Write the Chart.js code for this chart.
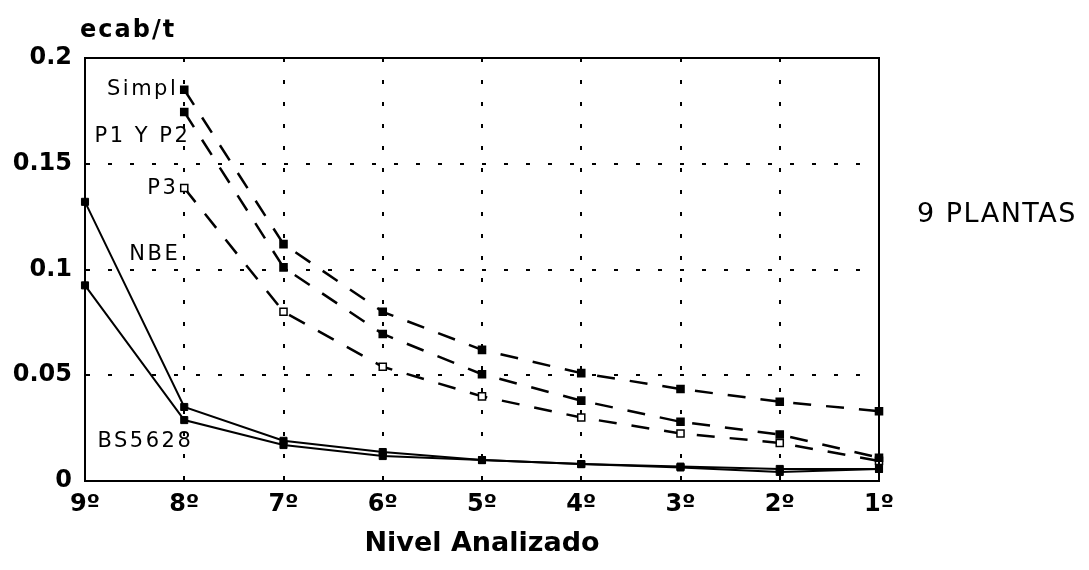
<!DOCTYPE html>
<html>
<head>
<meta charset="utf-8">
<script src="https://cdn.jsdelivr.net/npm/chart.js@4/dist/chart.umd.min.js"></script>
<style>
html,body{margin:0;padding:0;background:#fff;}
#wrap{width:1089px;height:570px;}
</style>
</head>
<body>
<div id="wrap"><canvas id="c" width="1089" height="570"></canvas></div>
<script>
const categories = ['9º','8º','7º','6º','5º','4º','3º','2º','1º'];
const yTickLabels = ['0','0.05','0.1','0.15','0.2'];
const seriesNames = ['Simpl','P1 Y P2','P3','NBE','BS5628'];
const simpl  = [null, 0.185, 0.112, 0.080, 0.062, 0.051, 0.0435, 0.0375, 0.033];
const p1p2   = [null, 0.1745, 0.101, 0.0695, 0.0505, 0.038, 0.028, 0.022, 0.011];
const p3     = [null, 0.1385, 0.080, 0.054, 0.040, 0.030, 0.0225, 0.018, 0.0095];
const nbe    = [0.132, 0.035, 0.019, 0.0137, 0.0099, 0.008, 0.0068, 0.0057, 0.0057];
const bs5628 = [0.0925, 0.0288, 0.017, 0.0118, 0.0099, 0.008, 0.0064, 0.0043, 0.0057];
const yTitle = 'ecab/t';
const xTitle = 'Nivel Analizado';
const sideNote = '9 PLANTAS';

const dashed = (data, fill) => ({
  data, borderColor:'#000', borderWidth:2.5, borderDash:[18,15],
  pointStyle:'rect', pointRadius:5, pointBackgroundColor: fill, pointBorderColor:'#000',
  pointBorderWidth:1.5, tension:0, clip:false, spanGaps:false
});
const solid = (data) => ({
  data, borderColor:'#000', borderWidth:2,
  pointStyle:'rect', pointRadius:5, pointBackgroundColor:'#000', pointBorderColor:'#000',
  pointBorderWidth:1, tension:0, clip:false
});

const labelPlugin = {
  id:'labels',
  afterDraw(chart){
    const {ctx, chartArea:a, scales:{x,y}} = chart;
    ctx.save();
    ctx.strokeStyle='#000'; ctx.lineWidth=2; ctx.setLineDash([]);
    ctx.strokeRect(a.left, a.top, a.right-a.left, a.bottom-a.top);
    ctx.fillStyle='#000';
    ctx.font='21px "DejaVu Sans"';
    ctx.letterSpacing='2.5px';
    ctx.textAlign='right'; ctx.textBaseline='middle';
    const x8 = x.getPixelForValue(1);
    const specs = [
      {t:seriesNames[0], yy:y.getPixelForValue(simpl[1]), dx:-6},
      {t:seriesNames[1], yy:y.getPixelForValue(p1p2[1])+25, dx:6},
      {t:seriesNames[2], yy:y.getPixelForValue(p3[1]), dx:-6},
      {t:seriesNames[3], yy:y.getPixelForValue(0.107), dx:-4},
      {t:seriesNames[4], yy:y.getPixelForValue(0.0185), dx:9}
    ];
    specs.forEach(s=>ctx.fillText(s.t, x8+s.dx, s.yy));
    ctx.textAlign='left'; ctx.textBaseline='alphabetic';
    ctx.font='bold 24px "DejaVu Sans"'; ctx.letterSpacing='2px';
    ctx.fillText(yTitle, 80, 37);
    ctx.font='27px "DejaVu Sans"'; ctx.letterSpacing='1.5px';
    ctx.textBaseline='middle';
    ctx.fillText(sideNote, 917, 215);
    ctx.restore();
  }
};

new Chart(document.getElementById('c'), {
  type:'line',
  data:{
    labels:categories,
    datasets:[dashed(simpl,'#000'), dashed(p1p2,'#000'), dashed(p3,'#fff'), solid(nbe), solid(bs5628)]
  },
  options:{
    responsive:false, animation:false,
    layout:{padding:{left:0,right:210,top:58,bottom:0}},
    plugins:{legend:{display:false}, tooltip:{enabled:false}},
    scales:{
      x:{
        type:'category', offset:false,
        grid:{color:'#000', lineWidth:2, drawTicks:false},
        border:{display:true, color:'#000', width:2, dash:[4,18]},
        ticks:{color:'#000', padding:9, font:{family:'DejaVu Sans', size:24, weight:'bold'}, maxRotation:0, autoSkip:false},
        title:{display:true, text:xTitle, color:'#000', font:{family:'DejaVu Sans', size:27, weight:'bold'}, padding:{top:0,bottom:10}},
        afterFit(s){ s.height = 89; }
      },
      y:{
        min:0, max:0.2,
        grid:{color:'#000', lineWidth:2, drawTicks:false},
        border:{display:true, color:'#000', width:2, dash:[4,18]},
        ticks:{stepSize:0.05, color:'#000', padding:13, font:{family:'DejaVu Sans', size:24, weight:'bold'},
          callback:(v,i)=>yTickLabels[i]},
        afterFit(s){ s.width = 85; }
      }
    }
  },
  plugins:[labelPlugin]
});
</script>
</body>
</html>
